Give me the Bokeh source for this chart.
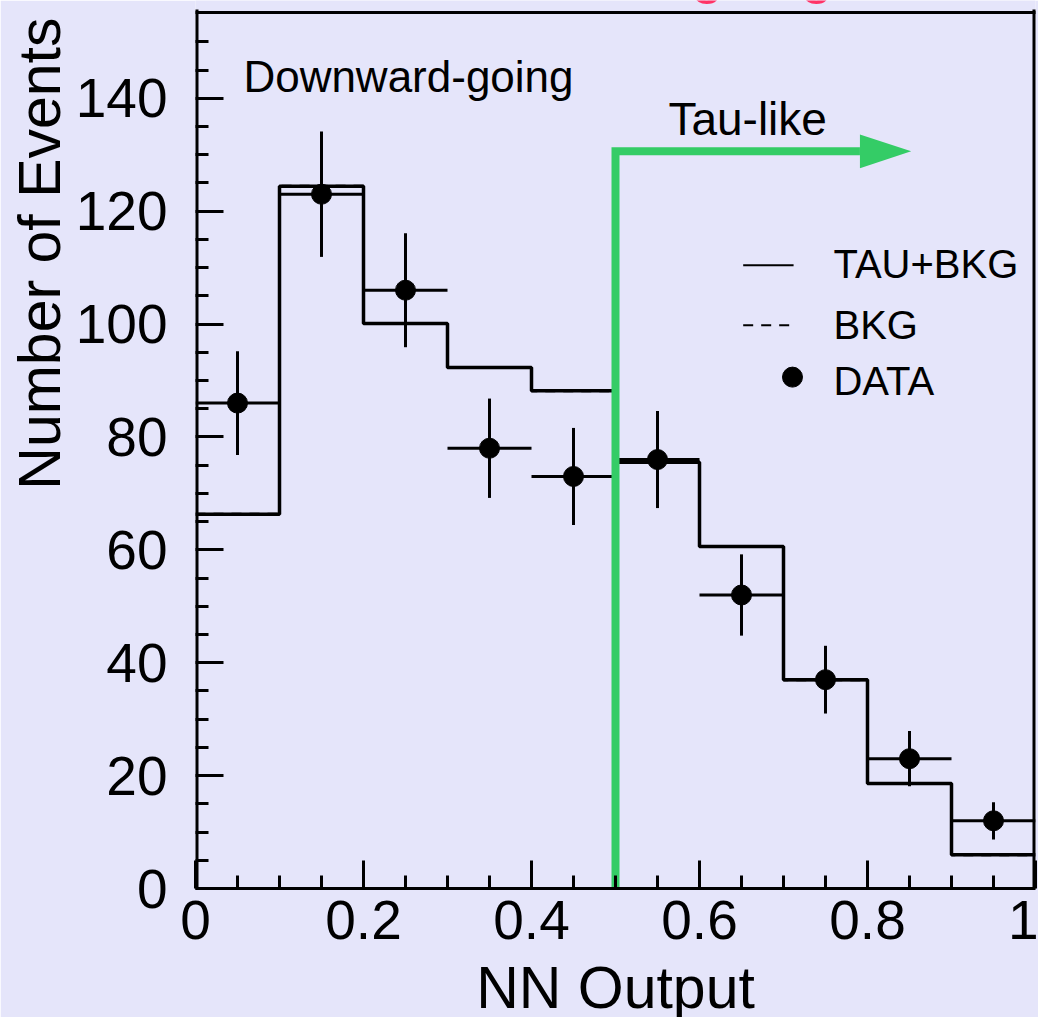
import math
from bokeh.plotting import figure
from bokeh.models import Range1d, FixedTicker, CustomJSTickFormatter, Label, ColumnDataSource, Title
from bokeh.embed import file_html
from bokeh.resources import INLINE

# ---- data ----
bin_lo = [0.0, 0.1, 0.2, 0.3, 0.4, 0.5, 0.6, 0.7, 0.8, 0.9]
bin_hi = [0.1, 0.2, 0.3, 0.4, 0.5, 0.6, 0.7, 0.8, 0.9, 1.0]
tau_bkg = [66.3, 124.4, 100.1, 92.3, 88.2, 75.5, 60.6, 37.0, 18.6, 6.0]
bkg = [66.3, 124.4, 100.1, 92.3, 88.2, 75.5, 60.6, 37.0, 18.6, 6.0]
data_counts = [86, 123, 106, 78, 73, 76, 52, 37, 23, 12]
data_err = [9.2, 11.1, 10.1, 8.8, 8.6, 8.6, 7.2, 6.0, 4.9, 3.3]

x_ticks = [0, 0.2, 0.4, 0.6, 0.8, 1.0]
x_minor = [0.05, 0.1, 0.15, 0.25, 0.3, 0.35, 0.45, 0.5, 0.55, 0.65, 0.7, 0.75, 0.85, 0.9, 0.95]
y_ticks = [0, 20, 40, 60, 80, 100, 120, 140]
y_minor = [5, 10, 15, 25, 30, 35, 45, 50, 55, 65, 70, 75, 85, 90, 95, 105, 110, 115, 125, 130, 135, 145, 150]

x_min, x_max = 0.0, 1.0
y_min, y_box_top = 0.0, 155.2      # the drawn box ends at 155.2
cut_value = 0.5
arrow_level = 130.6
arrow_tip = 0.852

BG = "#e5e5fa"
GREEN = "#34cc66"
FONT = "Liberation Sans"

BOX_TOP_PX = 12      # gap between the top of the picture and the box
FRAME_H = 888        # frame height in pixels (frame starts at the top of the picture)
y_view_end = y_box_top * FRAME_H / (FRAME_H - BOX_TOP_PX)

p = figure(width=1038, height=1017, output_backend="svg", toolbar_location=None,
           x_range=Range1d(x_min, x_max), y_range=Range1d(y_min, y_view_end))
p.min_border_left = 195
p.min_border_right = 3
p.min_border_top = 0
p.min_border_bottom = 129
p.background_fill_color = BG
p.border_fill_color = BG
p.outline_line_color = None
p.grid.visible = False

for ax in (p.xaxis[0], p.yaxis[0]):
    ax.axis_line_width = 3
    ax.major_tick_line_width = 3
    ax.minor_tick_line_width = 3
    ax.major_tick_in = 28
    ax.major_tick_out = 0
    ax.minor_tick_in = 13
    ax.minor_tick_out = 0
    ax.major_label_text_font = FONT
    ax.major_label_text_font_size = "55px"
    ax.major_label_text_color = "black"

p.xaxis[0].ticker = FixedTicker(ticks=x_ticks, minor_ticks=x_minor)
p.xaxis[0].formatter = CustomJSTickFormatter(code="return (Math.round(tick*10)/10).toString();")
p.xaxis[0].major_label_standoff = 12
p.yaxis[0].ticker = FixedTicker(ticks=y_ticks, minor_ticks=y_minor)
p.yaxis[0].major_label_standoff = 28
p.yaxis[0].axis_line_color = None

# box: left, top and right sides
p.segment(x0=[x_min, x_min, x_max], y0=[y_min, y_box_top, y_box_top],
          x1=[x_min, x_max, x_max], y1=[y_box_top, y_box_top, y_min],
          line_color="black", line_width=[6, 3, 6], line_cap="square")

# axis titles as side titles
p.add_layout(Title(text="Number of Events", align="right", vertical_align="bottom", offset=17,
                   standoff=0, text_font=FONT, text_font_size="59px", text_font_style="normal",
                   text_color="black"), "left")
p.add_layout(Title(text=" ", text_font_size="1px", standoff=45), "below")
p.add_layout(Title(text="NN Output", align="center", vertical_align="top", standoff=-70,
                   text_font=FONT, text_font_size="59px", text_font_style="normal",
                   text_color="black"), "below")

# histograms
xs = bin_lo + [bin_hi[-1]]
p.step(x=xs, y=bkg + [bkg[-1]], mode="after", line_color="black", line_width=3, line_dash="10 8")
p.step(x=xs, y=tau_bkg + [tau_bkg[-1]], mode="after", line_color="black", line_width=3.5)

# data with error bars
centers = [(a + b) / 2 for a, b in zip(bin_lo, bin_hi)]
src = ColumnDataSource(dict(
    x=centers, lo=bin_lo, hi=bin_hi, y=data_counts,
    ylo=[v - e for v, e in zip(data_counts, data_err)],
    yhi=[v + e for v, e in zip(data_counts, data_err)],
))
p.segment(x0="lo", x1="hi", y0="y", y1="y", source=src, line_color="black", line_width=3)
p.segment(x0="x", x1="x", y0="ylo", y1="yhi", source=src, line_color="black", line_width=3)
p.scatter(x="x", y="y", source=src, marker="circle", size=20, color="black")

# green cut arrow
head_len = 0.061
head_half = 3.0
p.line([cut_value, cut_value, arrow_tip - head_len], [0, arrow_level, arrow_level],
       line_color=GREEN, line_width=8, line_join="miter")
p.patch([arrow_tip - head_len, arrow_tip, arrow_tip - head_len],
        [arrow_level + head_half, arrow_level, arrow_level - head_half],
        color=GREEN, line_width=0)

# texts
def lab(x, y, text, size, align="left", baseline="alphabetic", color="black"):
    p.add_layout(Label(x=x, y=y, text=text, text_font=FONT, text_font_size=size,
                       text_align=align, text_baseline=baseline, text_color=color))

# title above the box (mostly outside the picture)
lab(0.5, 162.4, "Downward-going", "58px", align="center", color="#ff3366")

lab(0.057, 143.9, "Downward-going", "44px")
lab(0.563, 136.3, "Tau-like", "46px")

# legend
leg_x0, leg_x1, leg_tx = 0.652, 0.712, 0.7595
p.line([leg_x0, leg_x1], [110.4, 110.4], line_color="black", line_width=2)
p.line([leg_x0, leg_x1], [99.8, 99.8], line_color="black", line_width=2, line_dash="10 8")
p.scatter([0.7107], [90.6], marker="circle", size=20, color="black")
lab(leg_tx, 110.6, "TAU+BKG", "40px")
lab(leg_tx, 99.8, "BKG", "40px")
lab(leg_tx, 90.0, "DATA", "40px")

open("out.html", "w").write(file_html(p, INLINE))
